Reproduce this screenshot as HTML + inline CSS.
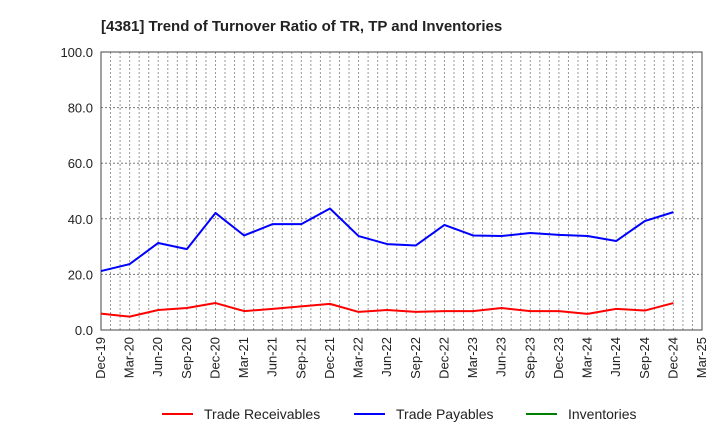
<!DOCTYPE html>
<html><head><meta charset="utf-8"><style>
body{margin:0;background:#fff;font-family:"Liberation Sans",sans-serif}
</style></head><body>
<svg id="chart" width="720" height="440" xmlns="http://www.w3.org/2000/svg" font-family="Liberation Sans, sans-serif">
<text x="101" y="31" font-size="15" font-weight="bold" fill="#222">[4381]  Trend of Turnover Ratio of TR, TP and Inventories</text>
<g id="grid"></g><g id="axes"></g><g id="series"></g>
<g>
<line x1="162" y1="414" x2="193" y2="414" stroke="#ff0000" stroke-width="2"/>
<text x="204" y="419" font-size="14" fill="#222">Trade Receivables</text>
<line x1="354" y1="414" x2="385" y2="414" stroke="#0000ff" stroke-width="2"/>
<text x="396" y="419" font-size="14" fill="#222">Trade Payables</text>
<line x1="526" y1="414" x2="557" y2="414" stroke="#008000" stroke-width="2"/>
<text x="568" y="419" font-size="14" fill="#222">Inventories</text>
</g>
</svg>
<script>
const xLabels=["Dec-19","Mar-20","Jun-20","Sep-20","Dec-20","Mar-21","Jun-21","Sep-21","Dec-21","Mar-22","Jun-22","Sep-22","Dec-22","Mar-23","Jun-23","Sep-23","Dec-23","Mar-24","Jun-24","Sep-24","Dec-24","Mar-25"];
const yTicks=[0,20,40,60,80,100];
const receivables=[5.9,4.8,7.2,7.9,9.7,6.8,7.6,8.5,9.4,6.5,7.2,6.5,6.8,6.8,7.9,6.8,6.8,5.8,7.6,7.0,9.7];
const payables=[21.2,23.7,31.3,29.1,42.1,34.0,38.1,38.1,43.7,33.8,30.9,30.4,37.8,34.0,33.8,34.9,34.2,33.8,32.0,39.2,42.4];
const NS="http://www.w3.org/2000/svg";
const L=101,R=702,T=52,B=330;
const nMonths=(xLabels.length-1)*3;
const xq=i=>L+(R-L)*(i*3)/nMonths;
const xm=m=>L+(R-L)*m/nMonths;
const y=v=>B-(B-T)*v/100;
function mk(tag,attrs,parent){const e=document.createElementNS(NS,tag);for(const k in attrs)e.setAttribute(k,attrs[k]);parent.appendChild(e);return e;}
const grid=document.getElementById('grid'),axes=document.getElementById('axes'),series=document.getElementById('series');
for(let m=1;m<nMonths;m++){const l=mk('line',{x1:xm(m),x2:xm(m),y1:T,y2:B,stroke:'#999','stroke-dasharray':'2,2','stroke-width':1},grid);

}
yTicks.forEach(v=>{if(v>0){const l=mk('line',{x1:L,x2:R,y1:y(v),y2:y(v),stroke:'#777','stroke-dasharray':'2,2','stroke-width':1},grid);

}
const t=mk('text',{x:L-8,y:y(v)+5,'text-anchor':'end','font-size':13,fill:'#222'},axes);t.textContent=v.toFixed(1);

});
const frame=mk('rect',{x:L,y:T,width:R-L,height:B-T,fill:'none',stroke:'#444','stroke-width':1},axes);


xLabels.forEach((s,i)=>{const x=xq(i);const t=mk('text',{x:x+4,y:B+7,'text-anchor':'end','font-size':13,fill:'#222',transform:`rotate(-90 ${x+4} ${B+7})`},axes);t.textContent=s;

});
function line(vals,color,name){const p=mk('polyline',{points:vals.map((v,i)=>xq(i)+','+y(v)).join(' '),fill:'none',stroke:color,'stroke-width':2,'stroke-linejoin':'round'},series);

}
line(receivables,'#ff0000','trade-receivables-line');
line(payables,'#0000ff','trade-payables-line');
</script>
</body></html>
